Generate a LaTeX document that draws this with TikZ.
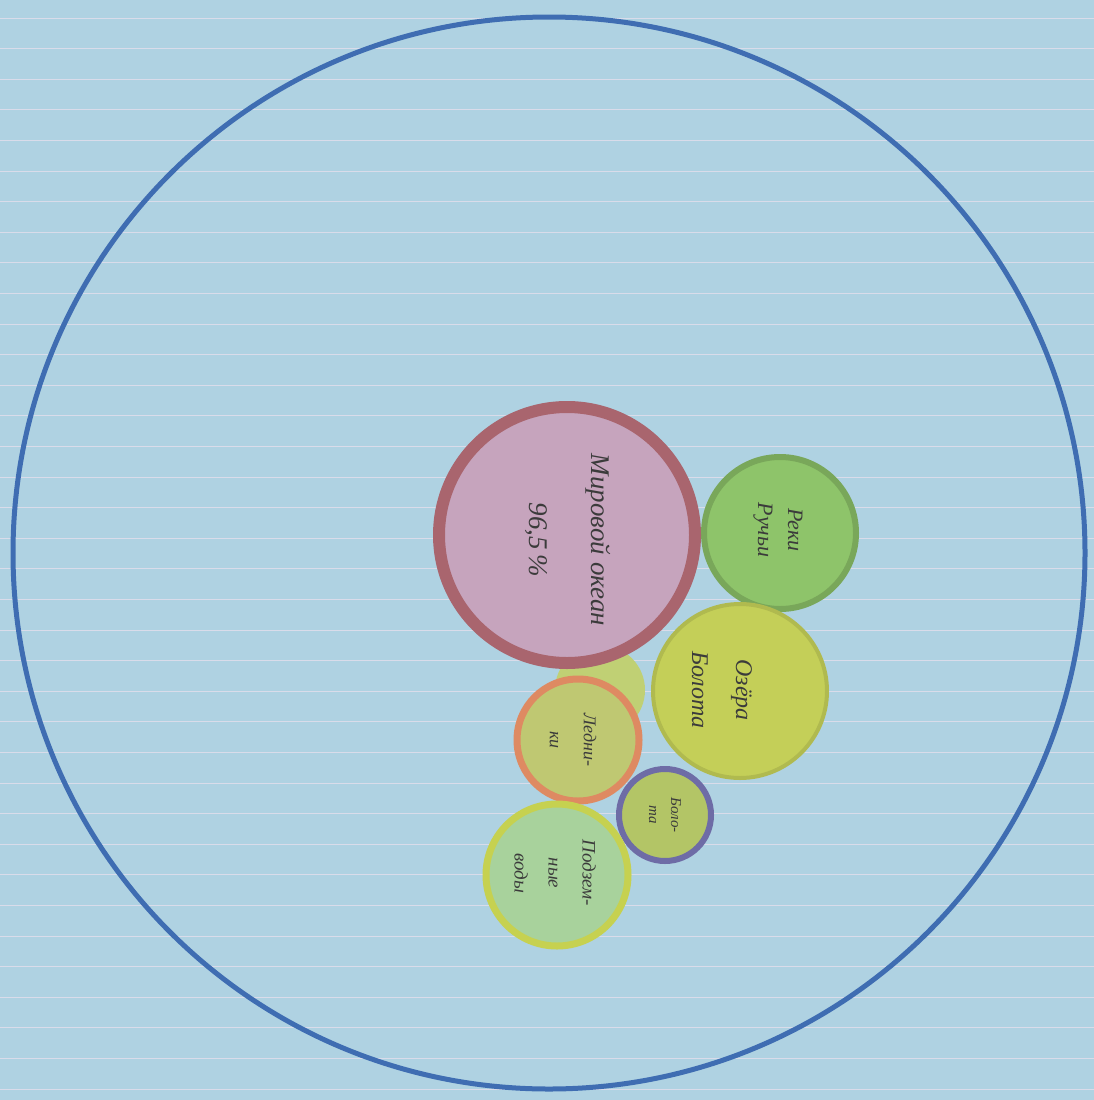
\documentclass[tikz,border=0pt]{standalone}
\usepackage{fontspec}
\setmainfont{Liberation Serif}
\definecolor{paper}{HTML}{AFD2E2}
\definecolor{rule}{HTML}{D9DCEA}
\definecolor{outerblue}{HTML}{3F6DB2}
\definecolor{redring}{HTML}{A9656E}
\definecolor{redfill}{HTML}{C6A4BD}
\definecolor{greenfill}{HTML}{8EC46A}
\definecolor{yellowfill}{HTML}{C4CF58}
\definecolor{orangering}{HTML}{DE8A62}
\definecolor{orangefill}{HTML}{BFC872}
\definecolor{purplering}{HTML}{6E6CA6}
\definecolor{purplefill}{HTML}{B3C566}
\definecolor{limering}{HTML}{C6D150}
\definecolor{limefill}{HTML}{A8D29C}
\definecolor{ink}{HTML}{3B3B3B}
\tikzset{
  blob/.style={circle, inner sep=0pt, line width=#1},
  hand/.style={text=ink, rotate=-90, align=center, font=\itshape\fontsize{22}{30}\selectfont}
}
\begin{document}
\begin{tikzpicture}[x=1pt,y=-1pt]
\useasboundingbox (0,0) rectangle (1094,1100);
\fill[paper] (0,0) rectangle (1094,1100);
\foreach \k in {0,...,35} {
  \draw[rule, line width=0.8pt] (0,{18+30.6*\k}) -- (1094,{18+30.6*\k});
}
\node[blob=5pt, draw=outerblue, minimum size=1072pt] (outer) at (549,553) {};
% yellow glow behind
\fill[yellowfill!80!paper] (600,690) circle (45);
\node[blob=6pt, draw=greenfill!85!black, fill=greenfill, minimum size=152pt] (green) at (780,533) {};
\node[blob=4pt, draw=yellowfill!90!black, fill=yellowfill, minimum size=174pt] (yellow) at (740,691) {};
\node[blob=12pt, draw=redring, fill=redfill, minimum size=256pt] (red) at (567,535) {};
\node[blob=7pt, draw=orangering, fill=orangefill, minimum size=122pt] (orange) at (578,740) {};
\node[blob=6pt, draw=purplering, fill=purplefill, minimum size=92pt] (purple) at (665,815) {};
\node[blob=7pt, draw=limering, fill=limefill, minimum size=142pt] (lime) at (557,875) {};
\node[hand, font=\itshape\fontsize{27}{62}\selectfont] (tred) at (568,540) {Мировой океан\\96,5\,\%};
\node[hand] (tgreen) at (778,530) {Реки\\Ручьи};
\node[hand, font=\itshape\fontsize{24}{44}\selectfont] (tyellow) at (722,690) {Озёра\\Болота};
\node[hand, font=\itshape\fontsize{18}{34}\selectfont] (torange) at (573,740) {Ледни-\\ки};
\node[hand, font=\itshape\fontsize{15}{22}\selectfont] (tpurple) at (665,815) {Боло-\\та};
\node[hand, font=\itshape\fontsize{19}{34}\selectfont] (tlime) at (555,873) {Подзем-\\ные\\воды};
\end{tikzpicture}
\end{document}
